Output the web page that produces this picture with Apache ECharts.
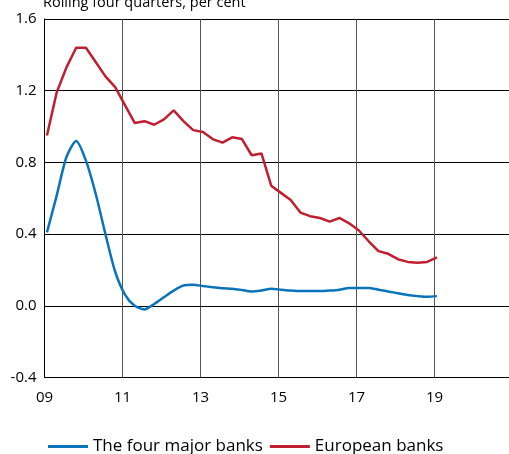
<!DOCTYPE html>
<html>
<head>
<meta charset="utf-8">
<script src="https://cdn.jsdelivr.net/npm/echarts@6/dist/echarts.min.js"></script>
<style>
  html, body { margin: 0; padding: 0; background: #fff; }
  #chart { width: 509px; height: 454px; }
</style>
</head>
<body>
<div id="chart"></div>
<script>
// quarterly, 2009 Q1 .. 2019 Q1
var startYear = 2009;

var fourMajorBanks = [
    0.41, 0.615, 0.83, 0.92, 0.81, 0.625, 0.40, 0.19, 0.063, 0.0,
    -0.02, 0.01, 0.048, 0.085, 0.113, 0.117, 0.11, 0.104, 0.098, 0.095,
    0.088, 0.08, 0.085, 0.095, 0.09, 0.085, 0.082, 0.082, 0.082, 0.085,
    0.09, 0.10, 0.10, 0.10, 0.09, 0.08, 0.07, 0.06, 0.054, 0.05, 0.054
];
var europeanBanks = [
    0.95, 1.19, 1.33, 1.44, 1.44, 1.36, 1.28, 1.22, 1.12, 1.02,
    1.03, 1.01, 1.04, 1.09, 1.03, 0.98, 0.97, 0.93, 0.91, 0.94,
    0.93, 0.84, 0.85, 0.67, 0.63, 0.59, 0.52, 0.50, 0.49, 0.47,
    0.49, 0.46, 0.42, 0.36, 0.305, 0.29, 0.26, 0.245, 0.24, 0.245, 0.27
];
var seriesNames = ['The four major banks', 'European banks'];
var seriesColors = ['#0a74bb', '#c01f2f'];
var yTicks = [-0.4, 0.0, 0.4, 0.8, 1.2, 1.6];
var subtitle = 'Rolling four quarters, per cent';

function toPairs(values) {
    var out = [];
    for (var i = 0; i < values.length; i++) {
        // point sits a little into its quarter
        out.push([startYear + i / 4 + 0.0625, values[i]]);
    }
    return out;
}

var font = 'Open Sans';
var chart = echarts.init(document.getElementById('chart'));

chart.setOption({
    animation: false,
    title: {
        text: subtitle,
        left: 38,
        top: -10,
        textStyle: {fontFamily: font, fontSize: 14.5, fontWeight: 'normal', color: '#000'}
    },
    grid: {left: 44.5, width: 468, top: 19, bottom: 76.5, containLabel: false, outerBoundsMode: 'none'},
    legend: {
        bottom: -6,
        left: 43,
        itemWidth: 40,
        itemHeight: 3,
        itemGap: 7,
        icon: 'rect',
        textStyle: {fontFamily: font, fontSize: 17, color: '#000'},
        data: seriesNames
    },
    xAxis: {
        type: 'value',
        min: 2009,
        max: 2021,
        interval: 2,
        axisLine: {show: true, lineStyle: {color: '#000', width: 1}},
        axisTick: {show: false},
        splitLine: {show: true, lineStyle: {color: '#555', width: 1}},
        axisLabel: {
            fontFamily: font, fontSize: 15, color: '#000', margin: 13,
            formatter: function (v) {
                if (v > 2019) return '';
                return String(v).slice(2);
            }
        }
    },
    yAxis: {
        type: 'value',
        min: yTicks[0],
        max: yTicks[yTicks.length - 1],
        interval: 0.4,
        axisLine: {show: true, lineStyle: {color: '#000', width: 1}},
        axisTick: {show: false},
        splitLine: {show: true, lineStyle: {color: '#000', width: 1}},
        axisLabel: {
            fontFamily: font, fontSize: 15, color: '#000', margin: 8,
            formatter: function (v) { return v.toFixed(1); }
        }
    },
    series: [
        {
            name: seriesNames[0],
            type: 'line',
            data: toPairs(fourMajorBanks),
            symbol: 'none',
            smooth: 0.25,
            lineStyle: {color: seriesColors[0], width: 2.5},
            itemStyle: {color: seriesColors[0]}
        },
        {
            name: seriesNames[1],
            type: 'line',
            data: toPairs(europeanBanks),
            symbol: 'none',
            lineStyle: {color: seriesColors[1], width: 2.5},
            itemStyle: {color: seriesColors[1]}
        }
    ]
});
</script>
</body>
</html>
